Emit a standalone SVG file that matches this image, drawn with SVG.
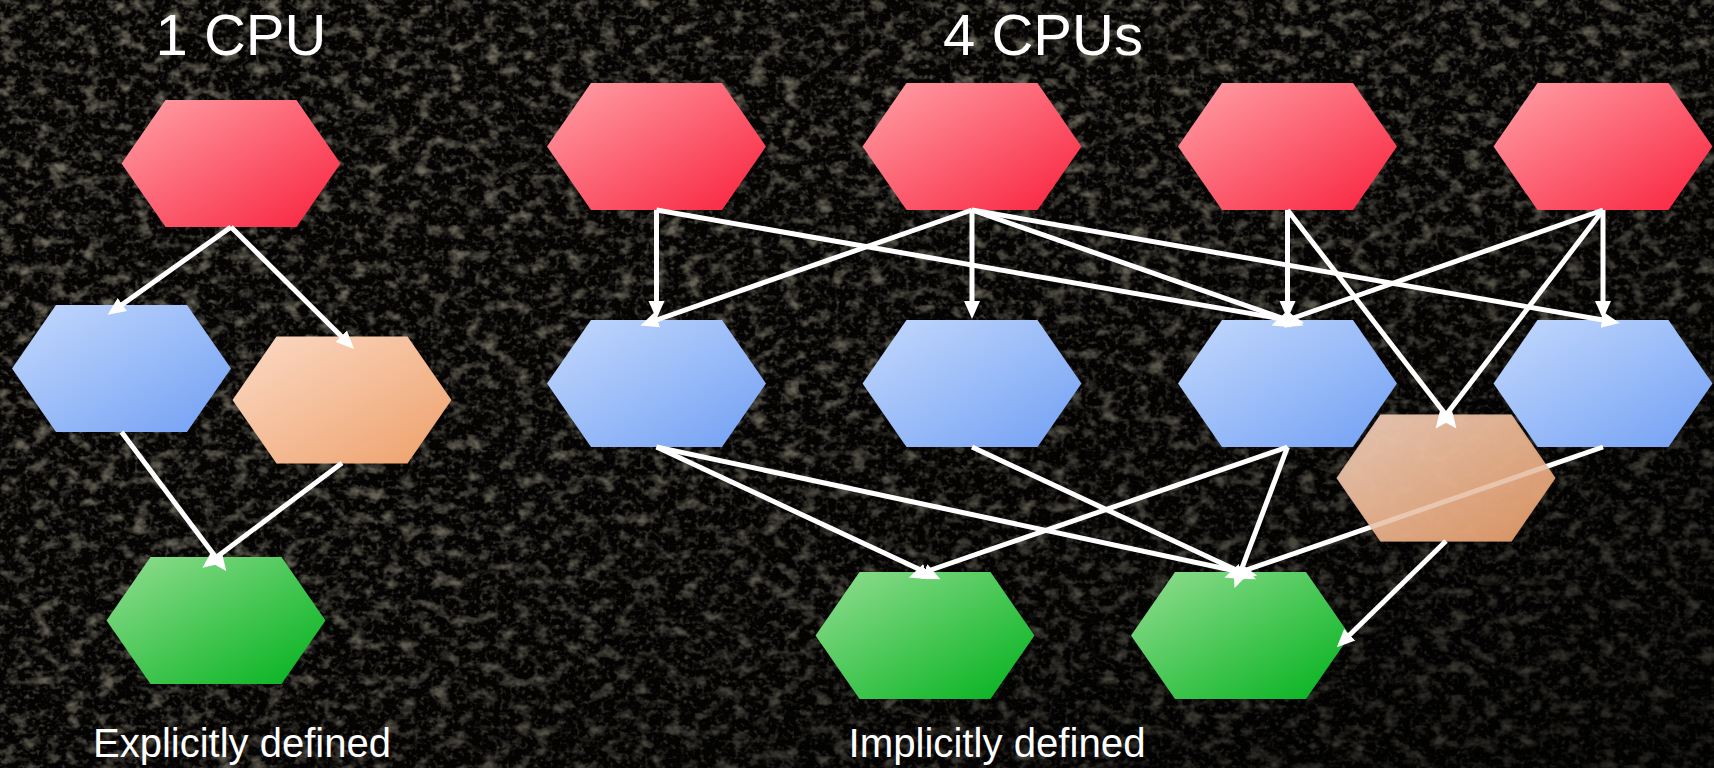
<svg xmlns="http://www.w3.org/2000/svg" xmlns:xlink="http://www.w3.org/1999/xlink" width="1714" height="768" viewBox="0 0 1714 768">
  <defs>
    <style>
      .title { font-family: "Liberation Sans", Arial, sans-serif; font-size: 58px; fill: #ffffff; text-anchor: middle; }
      .caption { font-family: "Liberation Sans", Arial, sans-serif; font-size: 40px; fill: #ffffff; text-anchor: middle; }
      .edge { fill: none; stroke: #ffffff; stroke-width: 5; marker-end: url(#arrow); }
    </style>

    <!-- stretched hexagon, centred on the origin -->
    <path id="hex" d="M-109.5,0 L-65.5,-63.5 L65.5,-63.5 L109.5,0 L65.5,63.5 L-65.5,63.5 Z"/>

    <linearGradient id="g-red" x1="0" y1="0" x2="1" y2="1">
      <stop offset="0" stop-color="#ffa2a8"/>
      <stop offset="1" stop-color="#f9203c"/>
    </linearGradient>
    <linearGradient id="g-blue" x1="0" y1="0" x2="1" y2="1">
      <stop offset="0" stop-color="#c4d9fd"/>
      <stop offset="1" stop-color="#72a0f4"/>
    </linearGradient>
    <linearGradient id="g-orange" x1="0" y1="0" x2="1" y2="1">
      <stop offset="0" stop-color="#fbdac6"/>
      <stop offset="1" stop-color="#eea06a"/>
    </linearGradient>
    <linearGradient id="g-green" x1="0" y1="0" x2="1" y2="1">
      <stop offset="0" stop-color="#93de92"/>
      <stop offset="1" stop-color="#00b11b"/>
    </linearGradient>

    <!-- arrowhead starts where the line stops and points past it -->
    <marker id="arrow" markerUnits="userSpaceOnUse" markerWidth="20" markerHeight="18"
            viewBox="0 -9 20 18" refX="1" refY="0" orient="auto">
      <path d="M0,-8 L18,0 L0,8 Z" fill="#ffffff"/>
    </marker>

    <!-- asphalt grain -->
    <filter id="grain" filterUnits="userSpaceOnUse" x="0" y="0" width="1714" height="768">
      <feTurbulence type="fractalNoise" baseFrequency="0.06 0.08" numOctaves="3" seed="7" result="t"/>
      <feColorMatrix in="t" type="matrix"
        values="0 0 0 0 0.18
                0 0 0 0 0.165
                0 0 0 0 0.125
                3.0 0 0 0 -1.5"/>
    </filter>
    <filter id="grain-fine" filterUnits="userSpaceOnUse" x="0" y="0" width="1714" height="768">
      <feTurbulence type="fractalNoise" baseFrequency="0.2" numOctaves="2" seed="3" result="t"/>
      <feColorMatrix in="t" type="matrix"
        values="0 0 0 0 0.13
                0 0 0 0 0.12
                0 0 0 0 0.09
                0 2.2 0 0 -1.15"/>
    </filter>
    <linearGradient id="shade" x1="0" y1="0" x2="1" y2="1">
      <stop offset="0" stop-color="#000" stop-opacity="0"/>
      <stop offset="0.5" stop-color="#000" stop-opacity="0.15"/>
      <stop offset="1" stop-color="#000" stop-opacity="0.65"/>
    </linearGradient>

    <filter id="soft-shadow" x="-10%" y="-10%" width="120%" height="120%">
      <feDropShadow dx="0" dy="1" stdDeviation="2" flood-color="#000" flood-opacity="0.75"/>
    </filter>

    <!-- dims the part of a connector that runs beneath the translucent hexagon -->
    <mask id="under-orange" maskUnits="userSpaceOnUse" x="0" y="0" width="1714" height="768">
      <rect x="0" y="0" width="1714" height="768" fill="#ffffff"/>
      <use xlink:href="#hex" href="#hex" x="1446" y="478" fill="#5a5a5a"/>
    </mask>
  </defs>

  <!-- background -->
  <g id="background">
    <rect x="0" y="0" width="1714" height="768" fill="#050403"/>
    <rect x="0" y="0" width="1714" height="768" filter="url(#grain)"/>
    <rect x="0" y="0" width="1714" height="768" filter="url(#grain-fine)"/>
    <rect x="0" y="0" width="1714" height="768" fill="url(#shade)"/>
  </g>

  <!-- headings and captions -->
  <g id="labels">
    <text class="title" x="241" y="55">1 CPU</text>
    <text class="title" x="1043" y="55">4 CPUs</text>
    <text class="caption" x="242" y="757">Explicitly defined</text>
    <text class="caption" x="997" y="757" textLength="297" lengthAdjust="spacingAndGlyphs">Implicitly defined</text>
  </g>

  <!-- single CPU graph -->
  <g id="s-red"><use xlink:href="#hex" href="#hex" x="231" y="163.5" fill="url(#g-red)"/></g>
  <g id="s-blue"><use xlink:href="#hex" href="#hex" x="121.5" y="368.5" fill="url(#g-blue)"/></g>
  <g id="s-orange"><use xlink:href="#hex" href="#hex" x="342" y="400" fill="url(#g-orange)"/></g>
  <g id="s-green"><use xlink:href="#hex" href="#hex" x="216" y="620.5" fill="url(#g-green)"/></g>

  <!-- four CPU graph -->
  <g id="m-red-1"><use xlink:href="#hex" href="#hex" x="656.5" y="146.5" fill="url(#g-red)"/></g>
  <g id="m-red-2"><use xlink:href="#hex" href="#hex" x="972" y="146.5" fill="url(#g-red)"/></g>
  <g id="m-red-3"><use xlink:href="#hex" href="#hex" x="1287.5" y="146.5" fill="url(#g-red)"/></g>
  <g id="m-red-4"><use xlink:href="#hex" href="#hex" x="1603" y="146.5" fill="url(#g-red)"/></g>

  <g id="m-blue-1"><use xlink:href="#hex" href="#hex" x="656.5" y="383.5" fill="url(#g-blue)"/></g>
  <g id="m-blue-2"><use xlink:href="#hex" href="#hex" x="972" y="383.5" fill="url(#g-blue)"/></g>
  <g id="m-blue-3"><use xlink:href="#hex" href="#hex" x="1287.5" y="383.5" fill="url(#g-blue)"/></g>
  <g id="m-blue-4"><use xlink:href="#hex" href="#hex" x="1603" y="383.5" fill="url(#g-blue)"/></g>

  <g id="m-orange" filter="url(#soft-shadow)"><use xlink:href="#hex" href="#hex" x="1446" y="478" fill="url(#g-orange)" fill-opacity="0.85"/></g>

  <g id="m-green-1"><use xlink:href="#hex" href="#hex" x="925" y="635.5" fill="url(#g-green)"/></g>
  <g id="m-green-2"><use xlink:href="#hex" href="#hex" x="1240.5" y="635.5" fill="url(#g-green)"/></g>

  <!-- dependencies -->
  <g id="connectors">
    <!-- single CPU -->
    <line class="edge" x1="231" y1="227" x2="121.5" y2="305"/>
    <line class="edge" x1="231" y1="227" x2="342" y2="337"/>
    <line class="edge" x1="121.5" y1="432" x2="216" y2="557.5"/>
    <line class="edge" x1="342" y1="463" x2="216" y2="557.5"/>

    <!-- four CPUs: first row to second row -->
    <line class="edge" x1="656.5" y1="210" x2="656.5" y2="302"/>
    <line class="edge" x1="656.5" y1="210" x2="1287.5" y2="320"/>
    <line class="edge" x1="972" y1="210" x2="656.5" y2="320"/>
    <line class="edge" x1="972" y1="210" x2="972" y2="302"/>
    <line class="edge" x1="972" y1="210" x2="1287.5" y2="320"/>
    <line class="edge" x1="972" y1="210" x2="1603" y2="320"/>
    <line class="edge" x1="1287.5" y1="210" x2="1287.5" y2="302"/>
    <line class="edge" x1="1287.5" y1="210" x2="1446" y2="415"/>
    <line class="edge" x1="1603" y1="210" x2="1287.5" y2="320"/>
    <line class="edge" x1="1603" y1="210" x2="1446" y2="415"/>
    <line class="edge" x1="1603" y1="210" x2="1603" y2="302"/>

    <!-- four CPUs: second row to results -->
    <line class="edge" x1="656.5" y1="447" x2="925" y2="572"/>
    <line class="edge" x1="656.5" y1="447" x2="1240.5" y2="572"/>
    <line class="edge" x1="972" y1="447" x2="1240.5" y2="572"/>
    <line class="edge" x1="1287.5" y1="447" x2="925" y2="572"/>
    <line class="edge" x1="1287.5" y1="447" x2="1240.5" y2="572"/>
    <line class="edge" x1="1603" y1="447" x2="1240.5" y2="572" mask="url(#under-orange)"/>
    <line class="edge" x1="1446" y1="541" x2="1349" y2="635.5"/>
  </g>
</svg>
